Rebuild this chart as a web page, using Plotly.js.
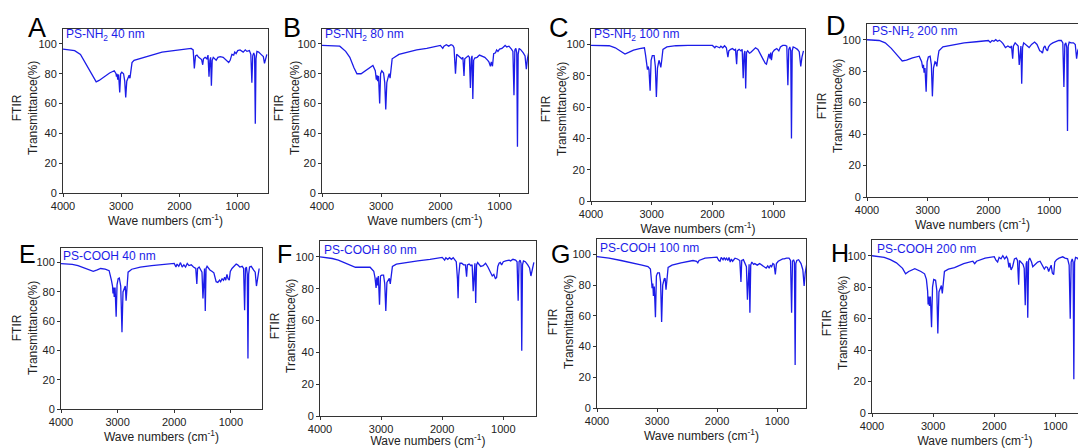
<!DOCTYPE html>
<html><head><meta charset="utf-8">
<script src="https://cdn.plot.ly/plotly-3.0.1.min.js"></script>
<style>html,body{margin:0;padding:0;background:#fff}#chart{width:1078px;height:448px}</style>
</head><body><div id="chart"></div>
<script>
// ---------- text ----------
const panelLetters = ['A','B','C','D','E','F','G','H'];
const panelTitles = ['PS-NH<sub>2</sub> 40 nm','PS-NH<sub>2</sub> 80 nm','PS-NH<sub>2</sub> 100 nm','PS-NH<sub>2</sub> 200 nm',
                     'PS-COOH 40 nm','PS-COOH 80 nm','PS-COOH 100 nm','PS-COOH 200 nm'];
const xTickVals = [4000,3000,2000,1000];
const yTickVals = [0,20,40,60,80,100];
const xAxisTitle = 'Wave numbers (cm<sup>-1</sup>)';
const yAxisTitle = 'FTIR<br>Transmittance(%)';

// ---------- data: [wavenumber (cm-1), transmittance (%)] ----------
const specA = [[4000,96.5],[3800,95.5],[3700,93],[3600,86],[3500,78.5],[3430,74.5],[3380,75.5],[3300,78],[3200,80.5],[3120,82],[3090,80],[3082,78],[3072,80],[3060,76],[3045,79.5],[3026,67.5],[3010,80],[2990,81],[2960,80],[2940,75],[2923,64],[2905,75],[2880,78],[2865,79],[2850,77],[2835,82],[2815,87.5],[2780,89],[2700,90],[2500,92.5],[2300,94.5],[2100,95.5],[1950,96],[1850,96.5],[1800,97],[1765,96],[1745,83.5],[1725,92],[1700,92.5],[1670,91],[1640,90],[1620,89.5],[1601,86],[1588,90],[1560,91],[1530,90],[1510,92.5],[1493,78],[1478,89],[1465,91],[1452,72],[1438,89],[1420,91],[1390,90],[1370,89],[1340,91],[1300,91.5],[1250,91],[1210,89.5],[1181,88],[1155,87.5],[1130,89],[1100,93],[1069,92.5],[1050,94.5],[1028,93.5],[1000,95.5],[960,96],[906,94.5],[870,96],[842,95],[800,95.5],[775,93],[757,74],[742,92],[725,94],[710,92],[698,46.5],[686,90],[670,95],[640,94.5],[600,93],[560,91.5],[540,87],[520,91],[500,93]];
const specB = [[4000,99],[3800,99],[3700,98.5],[3600,95],[3530,91],[3460,84],[3410,80],[3340,80],[3250,82.5],[3140,85.5],[3100,82],[3082,76],[3070,79],[3060,75],[3045,78.5],[3026,60],[3010,80],[2990,82],[2960,80.5],[2940,74],[2923,56],[2905,74],[2880,78],[2865,80],[2850,77],[2835,83],[2815,90],[2700,93],[2600,94],[2400,96],[2230,97],[2100,98],[2000,99],[1960,97],[1940,98.5],[1900,99.5],[1860,98.5],[1820,99.5],[1790,99],[1770,97.5],[1745,80],[1725,93],[1700,92],[1670,91.5],[1640,90],[1620,91],[1601,78.5],[1588,90],[1560,91],[1530,92],[1510,91],[1493,70.5],[1478,90],[1465,92],[1452,63],[1438,89],[1420,90.5],[1380,91],[1340,92.5],[1300,92],[1250,91],[1200,89],[1181,88],[1155,85],[1140,88],[1120,85],[1100,93.5],[1069,94],[1050,96],[1028,95],[1000,96.5],[960,97],[906,99],[880,98],[842,98.5],[800,96.5],[775,95],[757,65.5],[742,96],[725,97],[710,94],[698,31],[686,93],[670,97],[640,96],[600,94],[570,92],[548,83],[530,90],[500,96]];
const specC = [[4000,99.5],[3800,99.5],[3700,99.3],[3600,98],[3500,95.5],[3440,94],[3380,95],[3300,96.5],[3200,97.5],[3120,98],[3100,93],[3082,87.5],[3070,84],[3060,86],[3045,84],[3026,70.5],[3010,90],[2990,93],[2960,93],[2940,86],[2923,66.5],[2905,85],[2880,90],[2865,88],[2850,85.5],[2835,90],[2815,97],[2750,98.5],[2600,99.3],[2400,99.5],[2200,99.5],[2050,99.7],[2000,99.5],[1960,98],[1940,99],[1910,98.5],[1880,98],[1860,99],[1830,98],[1800,99.3],[1770,98],[1745,92],[1730,96],[1700,97],[1670,97.5],[1640,96.5],[1620,97],[1601,87.5],[1590,96],[1560,97],[1530,96],[1510,97],[1493,78.5],[1478,94],[1465,96],[1452,72],[1438,95],[1420,96],[1390,94.5],[1370,95],[1330,96.5],[1290,98],[1250,97],[1200,93],[1181,92],[1155,90],[1130,88],[1110,87.5],[1090,92],[1069,94],[1050,91],[1040,95],[1028,90],[1010,95],[980,96.5],[940,97.5],[906,96],[880,98.5],[842,99.5],[800,99.5],[775,99],[757,74],[742,97],[725,98.5],[710,96],[698,40],[686,96],[670,98.5],[640,98],[600,97],[570,95.5],[545,86],[525,92],[500,96]];
const specD = [[4000,100],[3800,99.5],[3700,98],[3600,94.5],[3500,90],[3420,86.5],[3350,87],[3250,88.5],[3140,89.5],[3100,86],[3082,82],[3070,84],[3060,79],[3045,82],[3026,67],[3010,86],[2990,89],[2960,89.5],[2940,84],[2923,64],[2905,82],[2880,86],[2865,85.5],[2850,83],[2835,88],[2815,93],[2750,95.5],[2600,96.5],[2400,98],[2200,98.7],[2000,99.5],[1970,98.3],[1940,99.5],[1910,99],[1880,100],[1850,99],[1820,99.7],[1790,98.8],[1760,97.5],[1720,95],[1680,96],[1640,95],[1620,96],[1601,88],[1588,96],[1560,98],[1530,97],[1510,96],[1493,84],[1478,95],[1465,96],[1452,72],[1438,95],[1420,98],[1390,97],[1370,96],[1330,95],[1290,97],[1240,98.5],[1200,97],[1181,95],[1155,93],[1130,92.5],[1110,91.5],[1090,95],[1069,96],[1050,94],[1028,93],[1010,95.5],[980,97],[940,98],[906,98.5],[880,99],[842,99.5],[800,99.5],[775,98],[757,70],[742,97],[725,98],[710,95],[698,42],[686,96],[670,98.5],[640,98],[600,98],[570,97],[548,88],[530,93],[500,96]];
const specE = [[4000,99.3],[3800,98.8],[3700,98],[3600,96.5],[3500,95],[3430,94],[3360,95],[3300,96],[3220,95.5],[3150,94.5],[3110,88],[3090,84],[3082,79],[3070,83],[3060,76.5],[3045,83],[3026,63],[3010,85],[2990,89],[2970,89.5],[2945,84],[2923,52.5],[2905,80],[2880,83],[2865,84],[2850,74],[2835,84],[2815,93.5],[2750,95.5],[2600,97],[2400,98],[2200,99],[2050,99.7],[2000,99.5],[1970,97],[1950,99],[1920,97.5],[1890,100],[1860,97],[1830,98.5],[1800,97],[1770,99.5],[1740,98],[1700,98.5],[1660,97],[1620,96],[1601,85.5],[1588,96],[1560,97],[1530,95],[1510,93.5],[1493,75.5],[1478,93],[1465,96],[1452,67],[1438,96],[1420,97.5],[1390,96],[1370,95],[1330,94],[1300,93],[1260,87],[1230,86.5],[1200,88],[1181,87],[1155,89],[1130,88],[1110,90],[1090,88],[1069,92],[1050,89],[1028,88],[1010,94],[980,96],[940,98],[906,99],[880,98.5],[842,97],[800,97.5],[775,96],[757,67.5],[742,96],[725,97],[710,92],[698,34.5],[686,92],[670,97],[640,97.5],[600,95],[570,93.5],[548,84],[530,90],[500,96]];
const specF = [[4000,100],[3800,99],[3700,98],[3600,96.5],[3500,95],[3420,93.5],[3300,93.5],[3180,93.5],[3120,91],[3100,87],[3082,80.5],[3070,87],[3060,82],[3045,88],[3026,70],[3010,88],[2990,88.5],[2960,88.5],[2940,83],[2923,66],[2905,84],[2880,86],[2865,86.5],[2850,83],[2835,88],[2815,94],[2750,95.5],[2600,96.5],[2400,97.5],[2200,98.5],[2050,99.5],[2000,99.7],[1960,98],[1940,99.5],[1910,98.5],[1880,99.5],[1850,98.5],[1820,99.5],[1790,98],[1770,97],[1750,86],[1740,74],[1730,88],[1710,96],[1680,96],[1650,95],[1620,95],[1601,87.5],[1588,95],[1560,95.5],[1530,94.5],[1510,95],[1493,78.5],[1478,94],[1465,96],[1452,71],[1438,95],[1420,96.5],[1390,95],[1370,94],[1330,94.5],[1290,96],[1250,93.5],[1210,90],[1181,88],[1155,89],[1130,86.5],[1110,87],[1090,94],[1069,96],[1050,96.5],[1028,95],[1000,97],[960,97.5],[906,98],[880,97.5],[842,98.5],[800,98],[775,97],[757,72.5],[742,97],[725,98],[710,96],[698,41],[686,95],[670,97.5],[640,97],[600,95],[570,93],[548,88],[530,92],[500,96.5]];
const specG = [[4000,98.5],[3800,97.5],[3600,96],[3400,94.5],[3250,93],[3150,92],[3110,90.5],[3090,82],[3082,78],[3070,81],[3060,73],[3045,79],[3026,59],[3010,86],[2990,88],[2960,88],[2940,82],[2923,56],[2905,80],[2880,84],[2865,84.5],[2850,77],[2835,84],[2815,91.5],[2750,93],[2600,94.5],[2400,96],[2340,95.5],[2320,94.5],[2300,96],[2200,97.5],[2050,98],[2000,98.2],[1970,96],[1950,95.5],[1930,98],[1900,96.5],[1880,98],[1860,96.5],[1840,97.5],[1820,96],[1800,98],[1780,95],[1760,97],[1740,95.5],[1720,96.5],[1700,97.5],[1660,97],[1620,96],[1601,82],[1588,96],[1560,96.5],[1530,94],[1510,92],[1493,70.5],[1478,92],[1465,93.5],[1452,62],[1438,93],[1420,95],[1390,93.5],[1370,94],[1330,93],[1290,94],[1250,93],[1200,92],[1181,91],[1155,92.5],[1130,91],[1110,93],[1090,92],[1069,94],[1050,93.5],[1028,87],[1010,94],[980,95.5],[940,96.5],[906,97],[880,97],[842,97.5],[800,97.5],[775,96],[757,62],[742,95.5],[725,96.5],[710,95],[698,28],[686,94],[670,96],[640,96.5],[600,94],[570,90],[548,79.5],[530,88],[500,95]];
const specH = [[4000,100],[3800,99],[3700,97.5],[3600,95.5],[3500,92],[3450,88.5],[3400,90],[3300,91.8],[3200,90],[3140,88.5],[3110,85],[3090,77.5],[3082,69],[3070,74],[3060,68],[3045,74],[3026,54.5],[3010,80],[2990,85],[2960,84.5],[2940,78],[2923,50.5],[2905,77],[2880,80.5],[2865,81],[2850,76],[2835,84],[2815,90],[2750,91.5],[2650,92.5],[2500,95],[2350,96.5],[2320,95],[2290,96.5],[2150,98.5],[2000,99.4],[1970,97],[1945,96],[1920,99],[1890,98],[1860,100],[1830,98],[1800,99.5],[1780,98],[1760,92.5],[1745,95.5],[1725,91],[1700,93],[1670,98],[1640,98.5],[1620,97],[1601,81.5],[1588,97],[1560,96],[1530,94.5],[1510,92],[1493,68.5],[1478,95],[1465,96.5],[1452,60.5],[1438,97],[1420,98.5],[1390,96],[1370,93],[1330,94.5],[1290,96],[1250,96.5],[1200,93],[1181,91.5],[1155,93],[1130,92.5],[1110,90],[1090,92],[1069,94],[1050,89],[1028,88],[1010,96],[980,97.5],[940,98.5],[906,99],[880,99.3],[842,98.5],[800,98],[775,94],[757,60],[742,96],[725,98],[710,96],[698,21.5],[686,96],[670,99],[640,98.5],[600,96],[570,95],[548,88],[530,93],[500,96]];
const spectra = [specA,specB,specC,specD,specE,specF,specG,specH];

// ---------- layout geometry (pixels) ----------
const W = 1078, H = 448;
// [left, right, top, bottom] of each plot box
const boxes = [[63,268,29,193],[322,528,29,193],[591,805,29,201],[867,1078,24,197],
               [61,262,248,409],[320,536,241,416],[597,806,239,408],[872,1078,240,413]];
const xEnds = [480,520,475,525,450,465,517,630];
const letterPos = [[26,28,27],[281,28,27],[547,28.5,27],[824,25.5,27],[17,254,25],[275,254,25],[549,254,25],[829,252.5,25]];
const titlePos = [[64,35],[323,35],[592,35],[870,31.5],[61,256],[322,250],[598,248],[875,248.5]];
// centre of the two-line y title block [x, y]
const yTitlePos = [[25,108],[287,108],[554,109],[830,106],[25,328],[283,326],[561,322],[835,323]];

const FONT = 'Arial, "Liberation Sans", sans-serif';
const LINE = 'rgb(28,28,232)';
const traces = [], annotations = [];
const layout = {width:W, height:H, margin:{l:0,r:0,t:0,b:0}, paper_bgcolor:'#fff', plot_bgcolor:'#fff',
  showlegend:false, font:{family:FONT, color:'#222'}};

spectra.forEach((spec, i) => {
  const n = i === 0 ? '' : String(i+1);
  const [l, r, t, b] = boxes[i];
  const cut = (i === 3 || i === 7);
  traces.push({type:'scatter', mode:'lines', x: spec.map(p => p[0]), y: spec.map(p => p[1]),
    xaxis:'x'+n, yaxis:'y'+n, line:{color:LINE, width:1.3}, hoverinfo:'skip'});
  layout['xaxis'+n] = {domain:[l/W, r/W], anchor:'y'+n, range:[4000, xEnds[i]], tickvals:xTickVals,
    ticks:'outside', ticklen:3, tickwidth:1, tickcolor:'#333', showline:true, linecolor:'#333', linewidth:1,
    mirror:true, showgrid:false, zeroline:false, automargin:false, tickfont:{size:11, color:'#222'},
    title:{text:xAxisTitle, font:{size:12, color:'#222'}, standoff:3}};
  layout['yaxis'+n] = {domain:[1 - b/H, 1 - t/H], anchor:'x'+n, range:[0,110], tickvals:yTickVals,
    ticks:'outside', ticklen:3, tickwidth:1, tickcolor:'#333', showline:true, linecolor:'#333', linewidth:1,
    mirror:!cut, showgrid:false, zeroline:false, automargin:false, tickfont:{size:11, color:'#222'}};
  const [yx, yy] = yTitlePos[i];
  annotations.push({xref:'paper', yref:'paper', x:yx/W, y:1 - yy/H, xanchor:'center', yanchor:'middle',
    textangle:-90, text:yAxisTitle, showarrow:false, font:{size:12, color:'#222', family:FONT}});
  const [lx, ly, ls] = letterPos[i];
  annotations.push({xref:'paper', yref:'paper', x:lx/W, y:1 - ly/H, xanchor:'left', yanchor:'middle',
    text:panelLetters[i], showarrow:false, font:{size:ls, color:'#000', family:FONT}});
  const [tx, ty] = titlePos[i];
  annotations.push({xref:'paper', yref:'paper', x:tx/W, y:1 - ty/H, xanchor:'left', yanchor:'middle',
    text:panelTitles[i], showarrow:false, font:{size:12, color:LINE, family:FONT}});
});
layout.annotations = annotations;
Plotly.newPlot('chart', traces, layout, {staticPlot:true, displayModeBar:false});
</script>
</body></html>
